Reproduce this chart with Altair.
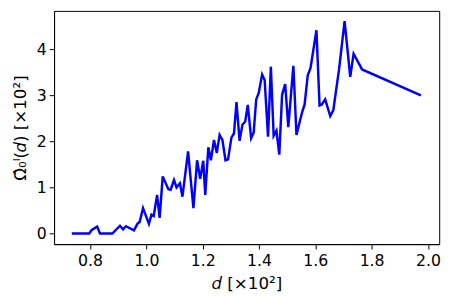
import altair as alt
import pandas as pd

d_vals = [0.735, 0.797, 0.806, 0.825, 0.835, 0.879, 0.906, 0.917, 0.927, 0.956,
          0.968, 0.976, 0.988, 1.009, 1.018, 1.026, 1.038, 1.047, 1.058, 1.078,
          1.086, 1.098, 1.107, 1.119, 1.128, 1.148, 1.167, 1.180, 1.191, 1.202,
          1.209, 1.220, 1.229, 1.240, 1.250, 1.260, 1.270, 1.281, 1.290, 1.302,
          1.311, 1.320, 1.331, 1.341, 1.351, 1.360, 1.372, 1.381, 1.390, 1.399,
          1.411, 1.420, 1.432, 1.442, 1.452, 1.462, 1.472, 1.482, 1.493, 1.504,
          1.522, 1.533, 1.553, 1.562, 1.573, 1.583, 1.604, 1.615, 1.623, 1.635,
          1.653, 1.664, 1.684, 1.704, 1.724, 1.736, 1.766, 1.975]
omega_vals = [0.0, 0.0, 0.08, 0.15, 0.0, 0.0, 0.17, 0.09, 0.16, 0.07,
              0.21, 0.25, 0.55, 0.21, 0.41, 0.38, 0.84, 0.34, 1.24, 0.96,
              0.95, 1.16, 1.0, 1.09, 0.80, 1.78, 0.55, 1.59, 1.19, 1.58,
              0.84, 1.87, 1.59, 2.03, 1.75, 2.14, 2.03, 1.59, 1.61, 2.08,
              2.17, 2.85, 2.01, 2.36, 2.43, 2.79, 2.07, 2.19, 2.91, 3.05,
              3.45, 3.33, 2.10, 3.62, 2.12, 2.23, 1.71, 3.01, 3.24, 2.31,
              3.64, 2.14, 2.63, 2.80, 3.43, 3.59, 4.41, 2.78, 2.80, 2.91,
              2.55, 2.68, 3.55, 4.61, 3.40, 3.90, 3.56, 3.00]

x_ticks = [0.8, 1.0, 1.2, 1.4, 1.6, 1.8, 2.0]
y_ticks = [0, 1, 2, 3, 4]

df = pd.DataFrame({"d": d_vals, "omega": omega_vals, "order": list(range(len(d_vals)))})

font = "DejaVu Sans"

chart = alt.Chart(df).mark_line(color="#0000ff", strokeWidth=2.5).encode(
    x=alt.X("d:Q",
            scale=alt.Scale(domain=[0.672, 2.04], nice=False, zero=False),
            axis=alt.Axis(title="𝑑 [×10²]", values=x_ticks, format=".1f", grid=False,
                          tickSize=5, labelPadding=4, titlePadding=7)),
    y=alt.Y("omega:Q",
            scale=alt.Scale(domain=[-0.23, 4.83], nice=False, zero=False),
            axis=alt.Axis(title="Ω̂₀ˡ(𝑑) [×10²]", values=y_ticks, format="d", grid=False,
                          tickSize=5, labelPadding=3, titlePadding=7)),
    order="order:Q",
).properties(
    width=393,
    height=238,
    autosize=alt.AutoSizeParams(type="none"),
    padding={"left": 47, "top": 0, "right": 10, "bottom": 52},
).configure_view(
    stroke="black", strokeWidth=1
).configure_axis(
    domainColor="black", tickColor="black", labelColor="black", titleColor="black",
    labelFont=font, titleFont=font, labelFontSize=16, titleFontSize=17,
    titleFontWeight="normal", domainWidth=1, tickWidth=1,
)

chart.save("out.html", embed_options={"renderer": "svg", "actions": False})
